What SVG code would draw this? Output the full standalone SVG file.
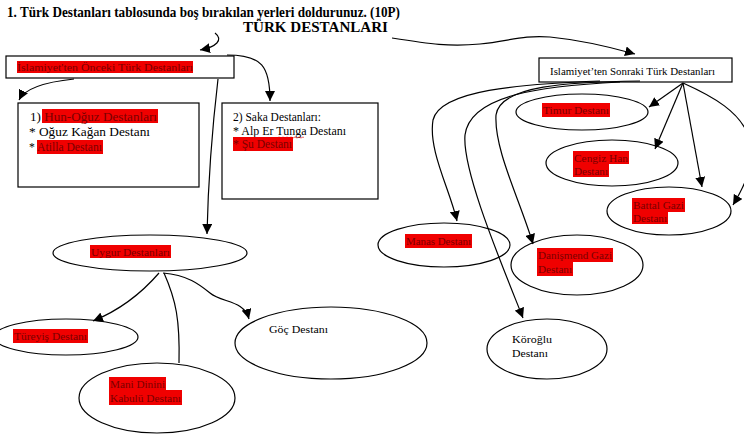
<svg xmlns="http://www.w3.org/2000/svg" width="744" height="444" viewBox="0 0 744 444">
<style>
text{font-family:"Liberation Serif","Times New Roman",serif;font-size:12.5px;fill:#000}
.t{font-weight:bold;font-size:15px}
.r{fill:#7a0000}
.s{font-size:11px}
.hl{fill:#f00000}
.box{fill:#fff;stroke:#000;stroke-width:1.2}
.el{fill:#fff;stroke:#000;stroke-width:1.2}
.c{fill:none;stroke:#000;stroke-width:1.2}
.a{marker-end:url(#ah)}
</style>
<defs>
<marker id="ah" markerUnits="userSpaceOnUse" markerWidth="12" markerHeight="10" refX="10" refY="5" orient="auto">
<path d="M0,0 L10,5 L0,10 Z" fill="#000"/>
</marker>
</defs>
<rect width="744" height="444" fill="#fff"/>
<g id="title">
<text class="t" x="7" y="17" textLength="393" lengthAdjust="spacingAndGlyphs">1. Türk Destanları tablosunda boş bırakılan yerleri doldurunuz. (10P)</text>
<text class="t" x="243" y="32" textLength="145" lengthAdjust="spacingAndGlyphs">TÜRK DESTANLARI</text>
</g>
<g id="n-onceki">
<rect class="box" x="6" y="56" width="228" height="22"/>
<rect class="hl" x="17" y="61" width="176" height="12"/>
<text class="r s" x="17" y="71" textLength="176" lengthAdjust="spacingAndGlyphs">İslamiyet'ten Önceki Türk Destanları</text>
</g>
<g id="n-hun">
<rect class="box" x="18" y="103" width="181" height="84"/>
<rect class="hl" x="42" y="109" width="116" height="14"/>
<text x="30" y="121" textLength="127" lengthAdjust="spacingAndGlyphs">1) <tspan class="r">Hun-Oğuz Destanları</tspan></text>
<text x="29" y="136" textLength="121" lengthAdjust="spacingAndGlyphs">* Oğuz Kağan Destanı</text>
<rect class="hl" x="37" y="140" width="66" height="14"/>
<text x="29" y="151" textLength="73" lengthAdjust="spacingAndGlyphs">* <tspan class="r">Atilla Destanı</tspan></text>
</g>
<g id="n-saka">
<rect class="box" x="222" y="103" width="156" height="96"/>
<text x="233" y="121" textLength="88" lengthAdjust="spacingAndGlyphs">2) Saka Destanları:</text>
<text x="233" y="135" textLength="113" lengthAdjust="spacingAndGlyphs">* Alp Er Tunga Destanı</text>
<path d="M278,137.5 q1,-1 2,0 t2,0 t2,0 t2,0 t2,0 t2,0 t2,0 t2,0 t2,0 t2,0 t2,0 t2,0 t2,0" fill="none" stroke="#e00000" stroke-width="0.6"/>
<rect class="hl" x="233" y="137" width="60" height="14"/>
<text class="r" x="233" y="148" textLength="59" lengthAdjust="spacingAndGlyphs">* Şu Destanı</text>
</g>
<g id="n-uygur">
<ellipse class="el" cx="150" cy="253" rx="97" ry="18"/>
<rect class="hl" x="90" y="245" width="81" height="13"/>
<text class="r s" x="91" y="256" textLength="79" lengthAdjust="spacingAndGlyphs">Uygur Destanları</text>
</g>
<g id="n-tureyis">
<ellipse class="el" cx="66" cy="337" rx="72" ry="18"/>
<rect class="hl" x="13" y="329" width="75" height="14"/>
<text class="r s" x="14" y="340" textLength="73" lengthAdjust="spacingAndGlyphs">Türeyiş Destanı</text>
</g>
<g id="n-mani">
<ellipse class="el" cx="157" cy="398" rx="78" ry="35"/>
<rect class="hl" x="109" y="377" width="57" height="13"/>
<rect class="hl" x="109" y="390" width="73" height="15"/>
<text class="r s" x="110" y="388" textLength="55" lengthAdjust="spacingAndGlyphs">Mani Dinini</text>
<text class="r s" x="110" y="402" textLength="71" lengthAdjust="spacingAndGlyphs">Kabulü Destanı</text>
</g>
<g id="n-goc">
<ellipse class="el" cx="331" cy="343" rx="96" ry="36"/>
<text class="s" x="269" y="333" textLength="59" lengthAdjust="spacingAndGlyphs">Göç Destanı</text>
</g>
<g id="n-sonraki">
<rect class="box" x="539" y="58" width="193" height="24"/>
<text class="s" x="550" y="75" textLength="165" lengthAdjust="spacingAndGlyphs">Islamiyet’ten Sonraki Türk Destanları</text>
</g>
<g id="n-timur">
<ellipse class="el" cx="582" cy="112" rx="66" ry="18"/>
<rect class="hl" x="542" y="103" width="68" height="14"/>
<text class="r s" x="543" y="114" textLength="66" lengthAdjust="spacingAndGlyphs">Timur Destanı</text>
</g>
<g id="n-cengiz">
<ellipse class="el" cx="612" cy="163" rx="66" ry="23"/>
<rect class="hl" x="573" y="151" width="56" height="13"/>
<rect class="hl" x="573" y="164" width="36" height="13"/>
<text class="r s" x="574" y="162" textLength="54" lengthAdjust="spacingAndGlyphs">Cengiz Han</text>
<text class="r s" x="574" y="175" textLength="34" lengthAdjust="spacingAndGlyphs">Destanı</text>
</g>
<g id="n-battal">
<ellipse class="el" cx="669" cy="211" rx="62" ry="24"/>
<rect class="hl" x="632" y="198" width="53" height="14"/>
<rect class="hl" x="632" y="212" width="36" height="12"/>
<text class="r s" x="633" y="209" textLength="51" lengthAdjust="spacingAndGlyphs">Battal Gazi</text>
<text class="r s" x="633" y="222" textLength="34" lengthAdjust="spacingAndGlyphs">Destanı</text>
</g>
<g id="n-manas">
<ellipse class="el" cx="444" cy="245" rx="66" ry="22"/>
<rect class="hl" x="405" y="234" width="67" height="14"/>
<text class="r s" x="406" y="245" textLength="65" lengthAdjust="spacingAndGlyphs">Manas Destanı</text>
</g>
<g id="n-danismend">
<ellipse class="el" cx="577" cy="265" rx="66" ry="30"/>
<rect class="hl" x="537" y="248" width="76" height="14"/>
<rect class="hl" x="537" y="262" width="36" height="14"/>
<text class="r s" x="538" y="259" textLength="74" lengthAdjust="spacingAndGlyphs">Danişmend Gazi</text>
<text class="r s" x="538" y="273" textLength="34" lengthAdjust="spacingAndGlyphs">Destanı</text>
</g>
<g id="n-koroglu">
<ellipse class="el" cx="547" cy="349" rx="60" ry="30"/>
<text class="s" x="512" y="343" textLength="40" lengthAdjust="spacingAndGlyphs">Köroğlu</text>
<text class="s" x="512" y="357" textLength="36" lengthAdjust="spacingAndGlyphs">Destanı</text>
</g>
<g id="connectors">
<path class="c a" d="M215,33 C224,40 216,47 200,50"/>
<path class="c a" d="M392,38 C430,44 450,47 480,44 C510,41 522,35 550,37 C580,40 610,47 635,54"/>
<path class="c a" d="M227,55 C262,55 270,66 270,101"/>
<path class="c a" d="M74,79 C45,82 25,88 19,100"/>
<path class="c a" d="M218,79 C212,130 208,190 207,234"/>
<path class="c a" d="M159,273 C140,295 120,310 93,321"/>
<path class="c" d="M164,273 C176,300 180,320 179,363"/>
<path class="c a" d="M163,273 C188,275 200,285 210,293 C222,303 244,300 249,319"/>
<path class="c a" d="M683,83 L649,107"/>
<path class="c a" d="M683,83 L655,149"/>
<path class="c a" d="M683,83 L702,187"/>
<path class="c a" d="M683,83 C712,96 742,112 750,140 C756,165 742,190 733,205"/>
<path class="c a" d="M600,81 C520,84 440,90 433,120 C428,150 450,190 457,221"/>
<path class="c a" d="M620,82 C540,86 470,95 465,135 C462,170 500,260 523,318"/>
<path class="c a" d="M640,81 C570,82 500,85 496,115 C494,150 520,200 533,244"/>
</g>
</svg>
